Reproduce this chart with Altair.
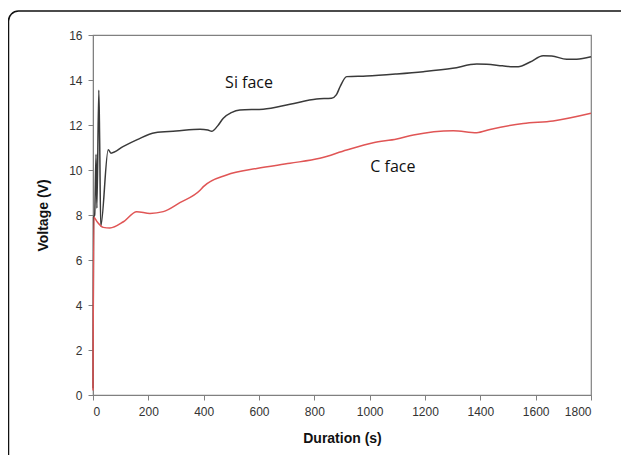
import altair as alt
import pandas as pd

# Si face (black) trace
si_t = [0, 2, 6, 11, 14, 21, 24, 28, 55, 65, 110, 160, 224, 300, 387, 415, 429, 450, 471, 500, 531, 615, 712, 808, 862, 880, 893, 917, 989, 1098, 1194, 1300, 1387, 1423, 1480, 1519, 1537, 1580, 1627, 1658, 1712, 1748, 1800]
si_v = [0.3, 7.9, 8.0, 10.7, 8.3, 13.55, 11.4, 7.5, 10.9, 10.75, 11.05, 11.35, 11.66, 11.73, 11.81, 11.78, 11.72, 11.95, 12.3, 12.55, 12.67, 12.7, 12.92, 13.16, 13.19, 13.35, 13.7, 14.15, 14.18, 14.27, 14.37, 14.52, 14.71, 14.7, 14.63, 14.59, 14.59, 14.8, 15.08, 15.07, 14.92, 14.92, 15.03]

# C face (red) trace
c_t = [0, 3, 15, 37, 61, 110, 158, 206, 254, 314, 387, 399, 483, 592, 712, 820, 917, 1013, 1098, 1158, 1302, 1387, 1435, 1555, 1663, 1800]
c_v = [0.2, 7.9, 7.7, 7.45, 7.42, 7.7, 8.15, 8.07, 8.15, 8.55, 9.1, 9.26, 9.78, 10.07, 10.3, 10.52, 10.89, 11.21, 11.38, 11.56, 11.75, 11.66, 11.8, 12.07, 12.18, 12.52]

label_text = ["Si face", "C face"]
label_t = [564, 1084]
label_v = [13.87, 10.13]

x_ticks = list(range(0, 1801, 200))
y_ticks = list(range(0, 17, 2))

si_df = pd.DataFrame({"t": si_t, "v": si_v})
c_df = pd.DataFrame({"t": c_t, "v": c_v})
lab_df = pd.DataFrame({"text": label_text, "t": label_t, "v": label_v})

xs = alt.Scale(domain=[0, 1800], nice=False, zero=False)
ys = alt.Scale(domain=[0, 16], nice=False)

FONT = "Arial, Liberation Sans, sans-serif"

x_axis = alt.Axis(values=x_ticks, format="d", title="Duration (s)", grid=False, tickSize=5,
                  labelFont=FONT, labelFontSize=12, labelColor="#333333",
                  titleFont=FONT, titleFontSize=14, titleFontWeight="bold",
                  titleColor="#111111", titlePadding=14, domainColor="#808080",
                  tickColor="#808080", labelPadding=6)
y_axis = alt.Axis(values=y_ticks, format="d", title="Voltage (V)", grid=False, tickSize=5,
                  labelFont=FONT, labelFontSize=12, labelColor="#333333",
                  titleFont=FONT, titleFontSize=14, titleFontWeight="bold",
                  titleColor="#111111", titlePadding=18, domainColor="#808080",
                  tickColor="#808080", labelPadding=6)

si_line = alt.Chart(si_df).mark_line(color="#3a3a3a", strokeWidth=1.5, interpolate="monotone").encode(
    x=alt.X("t:Q", scale=xs, axis=x_axis),
    y=alt.Y("v:Q", scale=ys, axis=y_axis),
)
c_line = alt.Chart(c_df).mark_line(color="#e05555", strokeWidth=1.5, interpolate="monotone").encode(
    x=alt.X("t:Q", scale=xs),
    y=alt.Y("v:Q", scale=ys),
)
labels = alt.Chart(lab_df).mark_text(font="Open Sans", fontSize=16, color="#111111").encode(
    x=alt.X("t:Q", scale=xs),
    y=alt.Y("v:Q", scale=ys),
    text="text:N",
)
frame = alt.Chart(pd.DataFrame({"a": [0]})).mark_rect(
    fill=None, stroke="#111111", strokeWidth=1.5, cornerRadius=10
).encode(x=alt.value(-84.5), x2=alt.value(540), y=alt.value(-24), y2=alt.value(460))

chart = alt.layer(frame, si_line, c_line, labels).properties(
    width=498, height=360,
    autosize=alt.AutoSizeParams(type="none"),
    padding={"left": 85, "top": 27, "right": 30, "bottom": 60},
    background="white",
).configure_view(stroke="#808080", strokeWidth=1.2)

chart.save("out.html", embed_options={"renderer": "svg", "actions": False})
